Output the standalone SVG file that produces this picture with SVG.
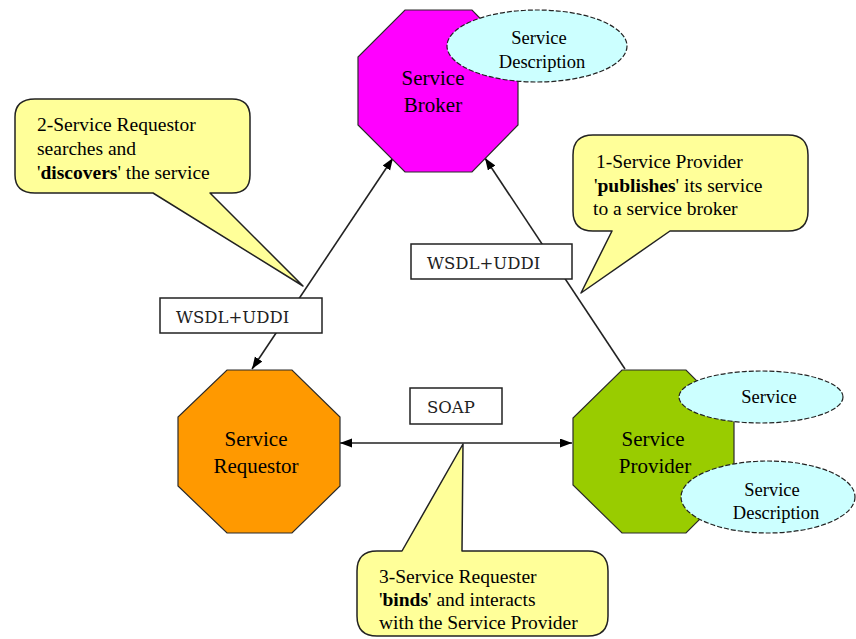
<svg xmlns="http://www.w3.org/2000/svg" width="856" height="639" viewBox="0 0 856 639">
<style>
.oct{stroke:#2a2a2a;stroke-width:1.2}
.ell{fill:#CCFFFF;stroke:#222;stroke-width:1.2;stroke-dasharray:5 2}
.call{fill:#FFFF99;stroke:#222;stroke-width:1.5;stroke-linejoin:round}
.lbl{fill:#fff;stroke:#222;stroke-width:1.5}
.conn{stroke:#222;stroke-width:1.6;fill:none}
text{font-family:'Liberation Serif','DejaVu Serif',serif;fill:#000}
.node{font-size:21px;text-anchor:middle}
.small{font-size:18.5px;text-anchor:middle}
.ct{font-size:19.5px}
text.mono{font-family:'DejaVu Serif','Liberation Serif',serif;font-size:16.5px;fill:#222}
</style>
<defs>
<marker id="arr" markerUnits="userSpaceOnUse" markerWidth="13" markerHeight="10" refX="12" refY="4.5" orient="auto-start-reverse">
<path d="M0,0 L12,4.5 L0,9 Z" fill="#000"/>
</marker>
</defs>
<rect width="856" height="639" fill="#fff"/>

<g id="connectors">
<line class="conn" x1="252" y1="369" x2="393" y2="158" marker-start="url(#arr)" marker-end="url(#arr)"/>
<line class="conn" x1="625" y1="369" x2="485" y2="158" marker-end="url(#arr)"/>
<line class="conn" x1="340" y1="443" x2="572" y2="443" marker-start="url(#arr)" marker-end="url(#arr)"/>
</g>

<g id="node-broker">
<polygon class="oct" fill="#FF00FF" points="405,10 472,10 518,57 518,125 472,172 405,172 358,125 358,57"/>
<ellipse class="ell" cx="537" cy="46" rx="90" ry="36"/>
<text class="small" x="539" y="44">Service</text>
<text class="small" x="542" y="68">Description</text>
<text class="node" x="433" y="85">Service</text>
<text class="node" x="433" y="112">Broker</text>
</g>

<g id="node-requestor">
<polygon class="oct" fill="#FF9900" points="227,370 292,370 340,417 340,486 292,533 227,533 178,486 178,417"/>
<text class="node" x="256" y="446">Service</text>
<text class="node" x="256" y="473">Requestor</text>
</g>

<g id="node-provider">
<polygon class="oct" fill="#99CC00" points="622,370 686,370 734,418 734,485 686,533 622,533 573,485 573,418"/>
<text class="node" x="653" y="446">Service</text>
<text class="node" x="655" y="473">Provider</text>
<ellipse class="ell" cx="761" cy="397" rx="82" ry="26"/>
<text class="small" x="769" y="403">Service</text>
<ellipse class="ell" cx="768" cy="497" rx="87" ry="36"/>
<text class="small" x="772" y="496">Service</text>
<text class="small" x="776" y="519">Description</text>
</g>

<g id="label-wsdl-left">
<rect class="lbl" x="160" y="298" width="162" height="35"/>
<text class="mono" x="176" y="323">WSDL+UDDI</text>
</g>
<g id="label-wsdl-right">
<rect class="lbl" x="411" y="244" width="161" height="35"/>
<text class="mono" x="427" y="269">WSDL+UDDI</text>
</g>
<g id="label-soap">
<rect class="lbl" x="410" y="388" width="92" height="36"/>
<text class="mono" x="427" y="413">SOAP</text>
</g>

<g id="callout-2">
<path class="call" d="M35,99 H232 Q250,99 250,117 V175 Q250,193 232,193 H210 L303,286 L153,193 H35 Q15,193 15,175 V117 Q15,99 35,99 Z"/>
<text class="ct" x="37" y="131">2-Service Requestor</text>
<text class="ct" x="37" y="155">searches and</text>
<text class="ct" x="37" y="179">'<tspan font-weight="bold">discovers</tspan>' the service</text>
</g>

<g id="callout-1">
<path class="call" d="M593,135 H788 Q808,135 808,155 V211 Q808,231 788,231 H670 L581,293 L612,231 H593 Q573,231 573,211 V155 Q573,135 593,135 Z"/>
<text class="ct" x="596" y="168">1-Service Provider</text>
<text class="ct" x="594" y="192">'<tspan font-weight="bold">publishes</tspan>' its service</text>
<text class="ct" x="593" y="215">to a service broker</text>
</g>

<g id="callout-3">
<path class="call" d="M377,551 H402 L463,444 L462,551 H588 Q608,551 608,571 V616 Q608,636 588,636 H377 Q357,636 357,616 V571 Q357,551 377,551 Z"/>
<text class="ct" x="379" y="583">3-Service Requester</text>
<text class="ct" x="379" y="606">'<tspan font-weight="bold">binds</tspan>' and interacts</text>
<text class="ct" x="379" y="629">with the Service Provider</text>
</g>
</svg>
